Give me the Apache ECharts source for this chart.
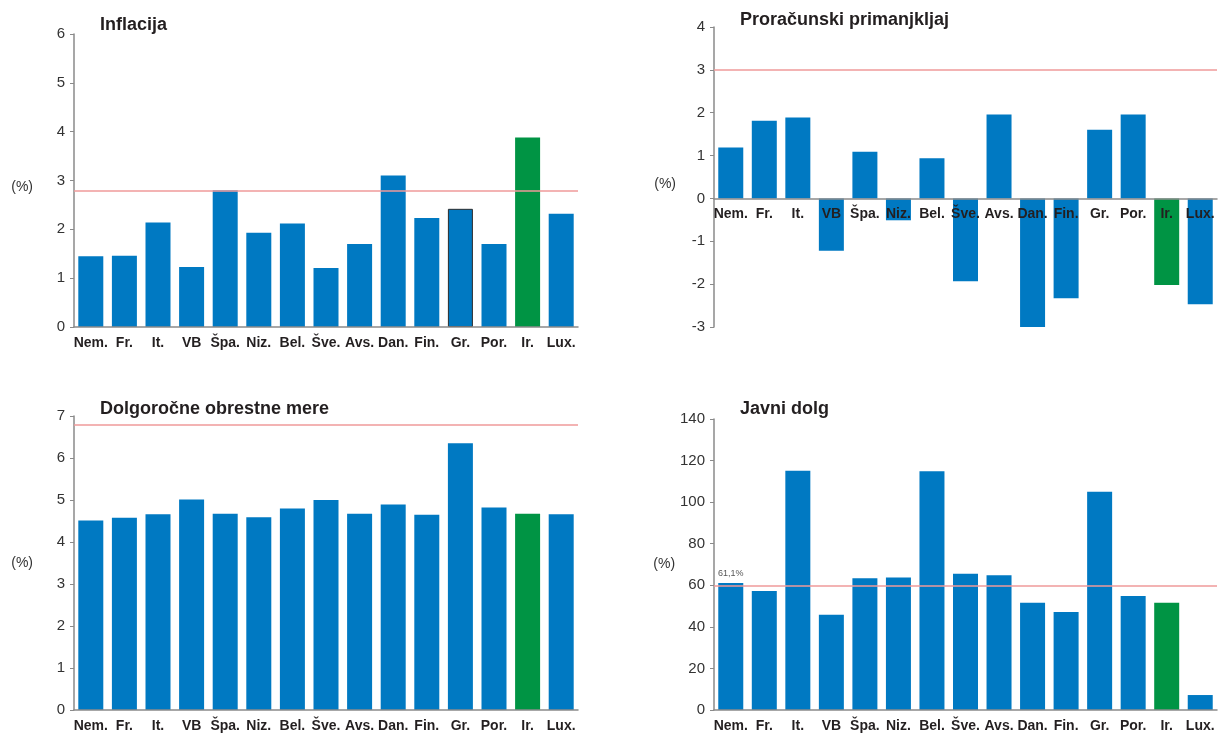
<!DOCTYPE html>
<html>
<head>
<meta charset="utf-8">
<script src="https://cdn.jsdelivr.net/npm/echarts@6/dist/echarts.min.js"></script>
<style>
html,body{margin:0;padding:0;background:#fff;}
#c{width:1219px;height:734px;}
</style>
</head>
<body>
<div id="c"></div>
<script>
// ---- data ----
const categories = ['Nem.','Fr.','It.','VB','Špa.','Niz.','Bel.','Šve.','Avs.','Dan.','Fin.','Gr.','Por.','Ir.','Lux.'];
const highlightCategory = 'Ir.';
const outlinedCategory = 'Gr.';
const titles = ['Inflacija','Proračunski primanjkljaj','Dolgoročne obrestne mere','Javni dolg'];
const inflacija    = [1.45,1.46,2.14,1.23,2.80,1.93,2.12,1.21,1.70,3.10,2.23,2.42,1.70,3.88,2.32];
const primanjkljaj = [1.19,1.81,1.89,-1.22,1.09,-0.51,0.94,-1.93,1.96,-3.0,-2.33,1.60,1.96,-2.02,-2.47];
const obrestne     = [4.51,4.58,4.66,5.01,4.67,4.59,4.80,5.00,4.67,4.89,4.65,6.35,4.82,4.67,4.66];
const dolg         = [61.1,57.3,115.1,45.8,63.4,63.7,114.9,65.6,64.8,51.6,47.1,105.0,54.8,51.6,7.2];
const referenceValues = [2.8, 3, 6.8, 60];
const yMin = [0, -3, 0, 0];
const yMax = [6, 4, 7, 140];
const yInterval = [1, 1, 1, 20];
const dolgNote = '61,1%';

// ---- layout / style ----
const BLUE = '#0079c2', GREEN = '#009444', RED = '#ef9a9a', AXIS = '#8a8a8a';
const FONT = 'Liberation Sans, Arial, sans-serif';
const grids = [
  {left:74,  top:34,  width:504, height:293},
  {left:714, top:27,  width:503, height:300},
  {left:74,  top:416, width:504, height:294},
  {left:714, top:419, width:503, height:291}
];
const titlePos = [
  {left:100, top:16},
  {left:740, top:11},
  {left:100, top:400},
  {left:740, top:400}
];
const nameGaps = [41, 38, 41, 38];
const nameVAlign = ['top', 'top', 'middle', 'middle'];
const seriesData = [inflacija, primanjkljaj, obrestne, dolg];

const chart = echarts.init(document.getElementById('c'), null, {renderer:'canvas'});

const option = {
  animation:false,
  backgroundColor:'#fff',
  title: titles.map((t,i)=>({
    text:t, left:titlePos[i].left, top:titlePos[i].top, padding:0,
    textStyle:{fontFamily:FONT, fontWeight:'bold', fontSize:18, color:'#231f20'}
  })),
  grid: grids.map(g=>Object.assign({containLabel:false}, g)),
  xAxis: grids.map((g,i)=>({
    type:'category', gridIndex:i, data:categories, z:10,
    // place the category axis at the value 0 of its value scale
    offset: -(0 - yMin[i]) / (yMax[i] - yMin[i]) * g.height,
    axisLine:{onZero:false, lineStyle:{color:AXIS, width:1.5}},
    axisTick:{show:false},
    axisLabel:{interval:0, margin:9, fontFamily:FONT, fontWeight:'bold', fontSize:14, color:'#231f20'},
    splitLine:{show:false}
  })),
  yAxis: grids.map((g,i)=>({
    type:'value', gridIndex:i, min:yMin[i], max:yMax[i], interval:yInterval[i],
    name:'(%)', nameLocation:'middle', nameRotate:0, nameGap:nameGaps[i],
    nameTextStyle:{fontFamily:FONT, fontSize:14, color:'#333', verticalAlign:nameVAlign[i]},
    axisLine:{show:true, lineStyle:{color:AXIS, width:1.5}},
    axisTick:{show:true, length:4, lineStyle:{color:AXIS}},
    axisLabel:{margin:9, fontFamily:FONT, fontSize:15, color:'#333'},
    splitLine:{show:false}
  })),
  series: seriesData.map((arr,i)=>({
    type:'bar', xAxisIndex:i, yAxisIndex:i, barWidth:25,
    data: arr.map((v,k)=>{
      const item = {value:v, itemStyle:{color: categories[k]===highlightCategory ? GREEN : BLUE}};
      if (i===0 && categories[k]===outlinedCategory) {
        item.itemStyle.borderColor = '#2b2b2b'; item.itemStyle.borderWidth = 1;
      }
      if (i===3 && k===0) {
        item.label = {show:true, position:'top', formatter:dolgNote, fontFamily:FONT, fontSize:9, color:'#555', distance:5};
      }
      return item;
    }),
    markLine:{
      silent:true, symbol:'none', animation:false,
      label:{show:false},
      lineStyle:{color:RED, width:1.5, type:'solid'},
      data:[{yAxis:referenceValues[i]}]
    },
    z:2
  }))
};
chart.setOption(option);
</script>
</body>
</html>
